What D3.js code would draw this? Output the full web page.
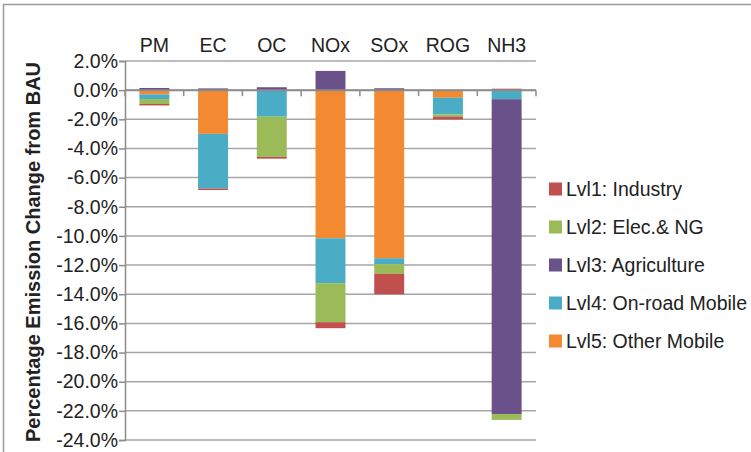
<!DOCTYPE html>
<html><head><meta charset="utf-8">
<script src="https://cdn.jsdelivr.net/npm/d3@7"></script>
<style>body{margin:0;background:#fff}svg{display:block;font-family:"Liberation Sans",Arial,Helvetica,sans-serif}</style>
</head><body><svg id="c" width="751" height="452"></svg>
<script>
const categories = ["PM","EC","OC","NOx","SOx","ROG","NH3"];
const lvl1 = [-0.10, -0.10, -0.12, -0.41, -1.40, -0.20, 0.10];
const lvl2 = [-0.34, 0.00, -2.76, -2.68, -0.66, -0.14, -0.40];
const lvl3 = [0.15, 0.12, 0.20, 1.32, 0.13, 0.00, -21.60];
const lvl4 = [-0.32, -3.75, -1.82, -3.08, -0.41, -1.15, -0.62];
const lvl5 = [-0.29, -3.00, 0.00, -10.16, -11.53, -0.52, 0.00];
const seriesNames = ["Lvl1: Industry","Lvl2: Elec.& NG","Lvl3: Agriculture","Lvl4: On-road Mobile","Lvl5: Other Mobile"];
const seriesData = [lvl1, lvl2, lvl3, lvl4, lvl5];
const colors = ["#C0504D","#9BBB59","#6A5189","#4BACC6","#F38A31"];
const yTicks = [2,0,-2,-4,-6,-8,-10,-12,-14,-16,-18,-20,-22,-24];

const FS = 19.5;
const svg = d3.select("#c");
// figure frame
svg.append("rect").attr("x",3.5).attr("y",4.5).attr("width",900).attr("height",600)
  .attr("fill","none").attr("stroke","#9a9a9a").attr("stroke-width",1.5);

const L = 125, R = 536, T = 61, B = 440;
const x = d3.scaleBand().domain(categories).range([L,R]).paddingInner(0.49).paddingOuter(0.245);
const xb = d3.scaleBand().domain(categories).range([L,R]);
const y = d3.scaleLinear().domain([-24,2]).range([B,T]);

// gridlines
svg.append("g").selectAll("line").data(yTicks).join("line")
  .attr("x1",L).attr("x2",R).attr("y1",d=>y(d)).attr("y2",d=>y(d))
  .attr("stroke","#a6a6a6").attr("stroke-width",1.5);

// y axis
const yAxis = d3.axisLeft(y).tickValues(yTicks).tickSize(6).tickPadding(1)
  .tickFormat(d=>d.toFixed(1)+"%");
const gy = svg.append("g").attr("transform",`translate(${L},0)`).call(yAxis);
gy.select(".domain").attr("stroke","#8c8c8c").attr("stroke-width",1.5);
gy.selectAll(".tick line").attr("stroke","#8c8c8c").attr("stroke-width",1.5);
gy.selectAll(".tick text").attr("font-size",FS).attr("fill","#222").attr("font-family","Liberation Sans, Arial, sans-serif");

// stacked bars
const rows = categories.map((c,i)=>{const o={cat:c}; seriesNames.forEach((s,k)=>o[s]=seriesData[k][i]); return o;});
const order = [4,3,2,1,0];
const stack = d3.stack().keys(order.map(k=>seriesNames[k])).offset(d3.stackOffsetDiverging);
const stacked = stack(rows);
stacked.forEach(layer=>{
  const ci = seriesNames.indexOf(layer.key);
  svg.append("g").selectAll("rect").data(layer).join("rect")
    .attr("x",d=>x(d.data.cat)).attr("width",x.bandwidth())
    .attr("y",d=>y(Math.max(d[0],d[1]))).attr("height",d=>Math.abs(y(d[0])-y(d[1])))
    .attr("fill",colors[ci]);
});

// x axis at zero
const gx = svg.append("g").attr("transform",`translate(0,${y(0)})`);
gx.append("line").attr("x1",L).attr("x2",R).attr("stroke","#8c8c8c").attr("stroke-width",2);
gx.selectAll("line.t").data(categories.concat(["end"])).join("line").attr("class","t")
  .attr("x1",(d,i)=>i<categories.length?xb(d):R).attr("x2",(d,i)=>i<categories.length?xb(d):R)
  .attr("y1",0).attr("y2",6).attr("stroke","#8c8c8c").attr("stroke-width",1.5);

// category labels at top
svg.append("g").selectAll("text").data(categories).join("text")
  .attr("x",d=>xb(d)+xb.bandwidth()/2).attr("y",52).attr("text-anchor","middle")
  .attr("font-size",FS).attr("fill","#222").text(d=>d);

// y title
svg.append("text").attr("transform","translate(40,252) rotate(-90)").attr("text-anchor","middle")
  .attr("font-size",20).attr("font-weight","bold").attr("fill","#222")
  .text("Percentage Emission Change from BAU");

// legend
const lg = svg.append("g").selectAll("g").data(seriesNames).join("g")
  .attr("transform",(d,i)=>`translate(549,${189+i*38})`);
lg.append("rect").attr("x",0).attr("y",-6.5).attr("width",13).attr("height",13).attr("fill",(d,i)=>colors[i]);
lg.append("text").attr("x",17).attr("y",7).attr("font-size",FS).attr("fill","#222").text(d=>d);
</script></body></html>
